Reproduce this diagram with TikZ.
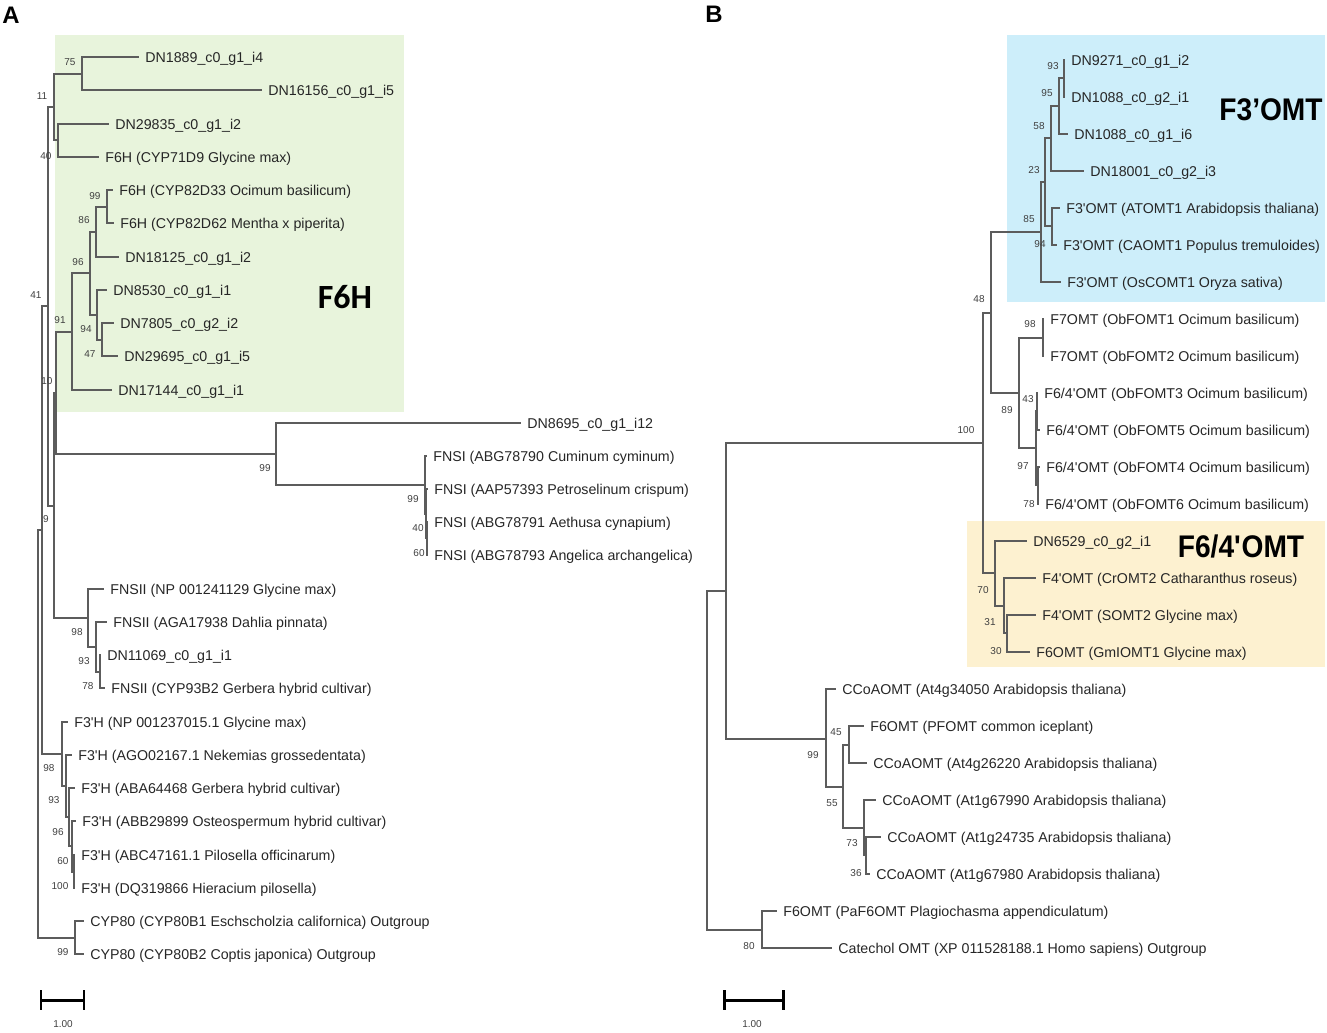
\documentclass[tikz,border=0pt]{standalone}
\usepackage{fontspec}
\setmainfont{Liberation Sans}
\newfontfamily\calfont{Carlito}
\newfontfamily\narrowfont{Liberation Sans}[FakeStretch=0.9]
\usepackage{tikz}
\definecolor{branchgray}{HTML}{5C5C5C}
\definecolor{f6hgreen}{HTML}{E8F4DC}
\definecolor{omtblue}{HTML}{CDEEFA}
\definecolor{omtyellow}{HTML}{FDF1D0}
\newcommand{\ap}{\textquotesingle}

\begin{document}
\begin{tikzpicture}[x=0.02cm,y=-0.02cm,
  leaf/.style={anchor=west,inner xsep=3.4pt,inner ysep=1pt,text height=5.9pt,text depth=0pt,font=\fontsize{8.1}{9}\selectfont,text=black!85},
  boot/.style={inner sep=0pt,font=\fontsize{5.7}{6}\selectfont,text=black!75},
  br/.style={draw=branchgray,line width=0.6pt},
  scalebar/.style={line width=1.7pt}]
\useasboundingbox (0,0) rectangle (1327,1032);

\fill[f6hgreen] (55,35) rectangle (404,412);
\fill[omtblue] (1007,35) rectangle (1325,302);
\fill[omtyellow] (967,521) rectangle (1325,667);

\node[font=\bfseries\fontsize{13.6}{14}\selectfont] (pA) at (11,15) {A};
\node[font=\bfseries\fontsize{13.6}{14}\selectfont] (pB) at (714,14) {B};
\node[font=\calfont\bfseries\fontsize{19.3}{20}\selectfont] (tF6H) at (345,297) {F6H};
\node[font=\narrowfont\bfseries\fontsize{17.8}{18}\selectfont] (tF3OMT) at (1271,110) {F3’OMT};
\node[font=\narrowfont\bfseries\fontsize{17.8}{18}\selectfont] (tF64OMT) at (1241,546) {F6/4\ap OMT};

% tree A
\node[leaf] (a1) at (139,57) {DN1889\_c0\_g1\_i4};
\node[leaf] (a2) at (262,90) {DN16156\_c0\_g1\_i5};
\node[leaf] (a3) at (109,124) {DN29835\_c0\_g1\_i2};
\node[leaf] (a4) at (99,157) {F6H (CYP71D9 Glycine max)};
\node[leaf] (a5) at (113,190) {F6H (CYP82D33 Ocimum basilicum)};
\node[leaf] (a6) at (114,223) {F6H (CYP82D62 Mentha x piperita)};
\node[leaf] (a7) at (119,257) {DN18125\_c0\_g1\_i2};
\node[leaf] (a8) at (107,290) {DN8530\_c0\_g1\_i1};
\node[leaf] (a9) at (114,323) {DN7805\_c0\_g2\_i2};
\node[leaf] (a10) at (118,356) {DN29695\_c0\_g1\_i5};
\node[leaf] (a11) at (112,390) {DN17144\_c0\_g1\_i1};
\node[leaf] (a12) at (521,423) {DN8695\_c0\_g1\_i12};
\node[leaf] (a13) at (427,456) {FNSI (ABG78790 Cuminum cyminum)};
\node[leaf] (a14) at (428,489) {FNSI (AAP57393 Petroselinum crispum)};
\node[leaf] (a15) at (428,522) {FNSI (ABG78791 Aethusa cynapium)};
\node[leaf] (a16) at (428,555) {FNSI (ABG78793 Angelica archangelica)};
\node[leaf] (a17) at (104,589) {FNSII (NP 001241129 Glycine max)};
\node[leaf] (a18) at (107,622) {FNSII (AGA17938 Dahlia pinnata)};
\node[leaf] (a19) at (101,655) {DN11069\_c0\_g1\_i1};
\node[leaf] (a20) at (105,688) {FNSII (CYP93B2 Gerbera hybrid cultivar)};
\node[leaf] (a21) at (68,722) {F3\ap H (NP 001237015.1 Glycine max)};
\node[leaf] (a22) at (72,755) {F3\ap H (AGO02167.1 Nekemias grossedentata)};
\node[leaf] (a23) at (75,788) {F3\ap H (ABA64468 Gerbera hybrid cultivar)};
\node[leaf] (a24) at (76,821) {F3\ap H (ABB29899 Osteospermum hybrid cultivar)};
\node[leaf] (a25) at (75,855) {F3\ap H (ABC47161.1 Pilosella officinarum)};
\node[leaf] (a26) at (75,888) {F3\ap H (DQ319866 Hieracium pilosella)};
\node[leaf] (a27) at (84,921) {CYP80 (CYP80B1 Eschscholzia californica) Outgroup};
\node[leaf] (a28) at (84,954) {CYP80 (CYP80B2 Coptis japonica) Outgroup};

\coordinate (nA75) at (82,74);
\coordinate (nA40) at (58,140);
\coordinate (nA11) at (54,107);
\coordinate (nA99) at (107,207);
\coordinate (nA86) at (96,232);
\coordinate (nA47) at (102,340);
\coordinate (nA94) at (97,315);
\coordinate (nA96) at (90,273);
\coordinate (nA91) at (72,332);
\coordinate (nA60f) at (427,538);
\coordinate (nA40f) at (426,514);
\coordinate (nA99f) at (425,485);
\coordinate (nA99d) at (276,454);
\coordinate (nA10) at (56,393);
\coordinate (nA78) at (100,672);
\coordinate (nA93) at (96,647);
\coordinate (nA98) at (88,618);
\coordinate (nAN) at (54,506);
\coordinate (nA41) at (48,306);
\coordinate (nA100) at (74,872);
\coordinate (nA60) at (72,846);
\coordinate (nA96b) at (69,817);
\coordinate (nA93b) at (66,786);
\coordinate (nA98b) at (62,754);
\coordinate (nA9) at (42,530);
\coordinate (nA99c) at (75,938);
\coordinate (nArt) at (38,734);

\foreach \p/\c in {nA75/a1,nA75/a2,nA40/a3,nA40/a4,nA11/nA75,nA11/nA40,
  nA99/a5,nA99/a6,nA86/nA99,nA86/a7,nA47/a9,nA47/a10,nA94/a8,nA94/nA47,
  nA96/nA86,nA96/nA94,nA91/nA96,nA91/a11,nA60f/a15,nA60f/a16,nA40f/a14,
  nA40f/nA60f,nA99f/a13,nA99f/nA40f,nA99d/a12,nA99d/nA99f,nA10/nA91,
  nA10/nA99d,nA78/a19,nA78/a20,nA93/a18,nA93/nA78,nA98/a17,nA98/nA93,
  nAN/nA10,nAN/nA98,nA41/nA11,nA41/nAN,nA100/a25,nA100/a26,nA60/a24,
  nA60/nA100,nA96b/a23,nA96b/nA60,nA93b/a22,nA93b/nA96b,nA98b/a21,
  nA98b/nA93b,nA9/nA41,nA9/nA98b,nA99c/a27,nA99c/a28,nArt/nA9,nArt/nA99c}
  \draw[br] (\p) |- (\c);

\node[boot] (bA75) at (70,62) {75};
\node[boot] (bA11) at (42,96) {11};
\node[boot] (bA40) at (46,156) {40};
\node[boot] (bA99) at (95,196) {99};
\node[boot] (bA86) at (84,220) {86};
\node[boot] (bA96) at (78,262) {96};
\node[boot] (bA94) at (86,329) {94};
\node[boot] (bA47) at (90,354) {47};
\node[boot] (bA91) at (60,320) {91};
\node[boot] (bA10) at (47,381) {10};
\node[boot] (bA41) at (36,295) {41};
\node[boot] (bA99d) at (265,468) {99};
\node[boot] (bA99f) at (413,499) {99};
\node[boot] (bA40f) at (418,528) {40};
\node[boot] (bA60f) at (419,553) {60};
\node[boot] (bA9) at (46,519) {9};
\node[boot] (bA98) at (77,632) {98};
\node[boot] (bA93) at (84,661) {93};
\node[boot] (bA78) at (88,686) {78};
\node[boot] (bA98b) at (49,768) {98};
\node[boot] (bA93b) at (54,800) {93};
\node[boot] (bA96b) at (58,832) {96};
\node[boot] (bA60) at (63,861) {60};
\node[boot] (bA100) at (60,886) {100};
\node[boot] (bA99c) at (63,952) {99};

\coordinate (sA1) at (41,1000);
\coordinate (sA2) at (84,1000);
\draw[scalebar] (sA1) -- (sA2);
\draw[scalebar] ([yshift=-5.5]sA1) -- ([yshift=5.5]sA1);
\draw[scalebar] ([yshift=-5.5]sA2) -- ([yshift=5.5]sA2);
\node[boot] (sAl) at (63,1024) {1.00};

% tree B
\node[leaf] (b1) at (1065,60) {DN9271\_c0\_g1\_i2};
\node[leaf] (b2) at (1065,97) {DN1088\_c0\_g2\_i1};
\node[leaf] (b3) at (1068,134) {DN1088\_c0\_g1\_i6};
\node[leaf] (b4) at (1084,171) {DN18001\_c0\_g2\_i3};
\node[leaf] (b5) at (1060,208) {F3\ap OMT (ATOMT1 Arabidopsis thaliana)};
\node[leaf] (b6) at (1057,245) {F3\ap OMT (CAOMT1 Populus tremuloides)};
\node[leaf] (b7) at (1061,282) {F3\ap OMT (OsCOMT1 Oryza sativa)};
\node[leaf] (b8) at (1044,319) {F7OMT (ObFOMT1 Ocimum basilicum)};
\node[leaf] (b9) at (1044,356) {F7OMT (ObFOMT2 Ocimum basilicum)};
\node[leaf] (b10) at (1038,393) {F6/4\ap OMT (ObFOMT3 Ocimum basilicum)};
\node[leaf] (b11) at (1040,430) {F6/4\ap OMT (ObFOMT5 Ocimum basilicum)};
\node[leaf] (b12) at (1040,467) {F6/4\ap OMT (ObFOMT4 Ocimum basilicum)};
\node[leaf] (b13) at (1039,504) {F6/4\ap OMT (ObFOMT6 Ocimum basilicum)};
\node[leaf] (b14) at (1027,541) {DN6529\_c0\_g2\_i1};
\node[leaf] (b15) at (1036,578) {F4\ap OMT (CrOMT2 Catharanthus roseus)};
\node[leaf] (b16) at (1036,615) {F4\ap OMT (SOMT2 Glycine max)};
\node[leaf] (b17) at (1030,652) {F6OMT (GmIOMT1 Glycine max)};
\node[leaf] (b18) at (836,689) {CCoAOMT (At4g34050 Arabidopsis thaliana)};
\node[leaf] (b19) at (864,726) {F6OMT (PFOMT common iceplant)};
\node[leaf] (b20) at (867,763) {CCoAOMT (At4g26220 Arabidopsis thaliana)};
\node[leaf] (b21) at (876,800) {CCoAOMT (At1g67990 Arabidopsis thaliana)};
\node[leaf] (b22) at (881,837) {CCoAOMT (At1g24735 Arabidopsis thaliana)};
\node[leaf] (b23) at (870,874) {CCoAOMT (At1g67980 Arabidopsis thaliana)};
\node[leaf] (b24) at (777,911) {F6OMT (PaF6OMT Plagiochasma appendiculatum)};
\node[leaf] (b25) at (832,948) {Catechol OMT (XP 011528188.1 Homo sapiens) Outgroup};

\coordinate (nB93) at (1064,78);
\coordinate (nB95) at (1059,106);
\coordinate (nB58) at (1051,138);
\coordinate (nB94) at (1052,226);
\coordinate (nB23) at (1045,182);
\coordinate (nB85) at (1041,232);
\coordinate (nB98) at (1043,338);
\coordinate (nB43) at (1037,411);
\coordinate (nB78) at (1038,485);
\coordinate (nB97) at (1036,448);
\coordinate (nB89) at (1019,393);
\coordinate (nB48) at (991,313);
\coordinate (nB30) at (1007,633);
\coordinate (nB31) at (1004,606);
\coordinate (nB70) at (995,573);
\coordinate (nB100) at (983,443);
\coordinate (nB36) at (866,855);
\coordinate (nB73) at (864,828);
\coordinate (nB45) at (849,745);
\coordinate (nB55) at (843,787);
\coordinate (nB99) at (826,739);
\coordinate (nBx) at (726,591);
\coordinate (nB80) at (762,930);
\coordinate (nBrt) at (707,761);

\foreach \p/\c in {nB93/b1,nB93/b2,nB95/nB93,nB95/b3,nB58/nB95,nB58/b4,
  nB94/b5,nB94/b6,nB23/nB58,nB23/nB94,nB85/nB23,nB85/b7,nB98/b8,nB98/b9,
  nB43/b10,nB43/b11,nB78/b12,nB78/b13,nB97/nB43,nB97/nB78,nB89/nB98,
  nB89/nB97,nB48/nB85,nB48/nB89,nB30/b16,nB30/b17,nB31/b15,nB31/nB30,
  nB70/b14,nB70/nB31,nB100/nB48,nB100/nB70,nB36/b22,nB36/b23,nB73/b21,
  nB73/nB36,nB45/b19,nB45/b20,nB55/nB45,nB55/nB73,nB99/b18,nB99/nB55,
  nBx/nB100,nBx/nB99,nB80/b24,nB80/b25,nBrt/nBx,nBrt/nB80}
  \draw[br] (\p) |- (\c);

\node[boot] (bB93) at (1053,66) {93};
\node[boot] (bB95) at (1047,93) {95};
\node[boot] (bB58) at (1039,126) {58};
\node[boot] (bB23) at (1034,170) {23};
\node[boot] (bB85) at (1029,219) {85};
\node[boot] (bB94) at (1040,244) {94};
\node[boot] (bB48) at (979,299) {48};
\node[boot] (bB98) at (1030,324) {98};
\node[boot] (bB89) at (1007,410) {89};
\node[boot] (bB43) at (1028,399) {43};
\node[boot] (bB97) at (1023,466) {97};
\node[boot] (bB78) at (1029,504) {78};
\node[boot] (bB100) at (966,430) {100};
\node[boot] (bB70) at (983,590) {70};
\node[boot] (bB31) at (990,622) {31};
\node[boot] (bB30) at (996,651) {30};
\node[boot] (bB45) at (836,732) {45};
\node[boot] (bB99) at (813,755) {99};
\node[boot] (bB55) at (832,803) {55};
\node[boot] (bB73) at (852,843) {73};
\node[boot] (bB36) at (856,873) {36};
\node[boot] (bB80) at (749,946) {80};

\coordinate (sB1) at (724,1000);
\coordinate (sB2) at (783,1000);
\draw[scalebar] (sB1) -- (sB2);
\draw[scalebar] ([yshift=-5.5]sB1) -- ([yshift=5.5]sB1);
\draw[scalebar] ([yshift=-5.5]sB2) -- ([yshift=5.5]sB2);
\node[boot] (sBl) at (752,1024) {1.00};
\end{tikzpicture}
\end{document}
